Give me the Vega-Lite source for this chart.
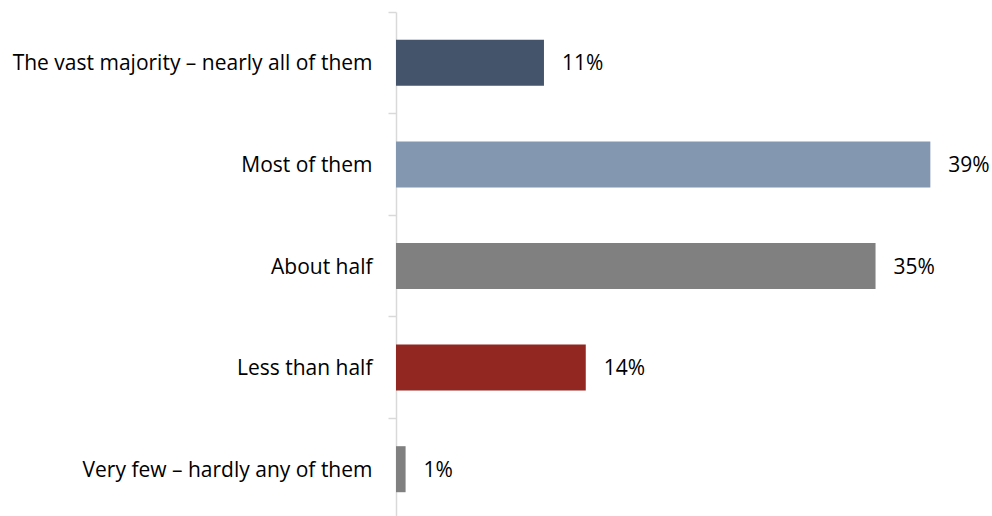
{
  "$schema": "https://vega.github.io/schema/vega-lite/v6.json",
  "width": 596,
  "height": 508,
  "autosize": {"type": "none"},
  "padding": {"left": 396, "top": 12, "right": 0, "bottom": 0},
  "background": "white",
  "config": {"view": {"stroke": null}},
  "data": {
    "values": [
      {"cat": "The vast majority – nearly all of them", "v": 10.8, "label": "11%"},
      {"cat": "Most of them", "v": 39, "label": "39%"},
      {"cat": "About half", "v": 35, "label": "35%"},
      {"cat": "Less than half", "v": 13.85, "label": "14%"},
      {"cat": "Very few – hardly any of them", "v": 0.7, "label": "1%"}
    ]
  },
  "encoding": {
    "y": {
      "field": "cat",
      "type": "nominal",
      "sort": null,
      "scale": {"paddingInner": 0, "paddingOuter": 0},
      "axis": {
        "title": null,
        "bandPosition": 0,
        "domainColor": "#d9d9d9",
        "domainWidth": 1.5,
        "tickColor": "#d9d9d9",
        "tickWidth": 1.5,
        "tickSize": 8,
        "labelPadding": 16,
        "labelOffset": 1.5,
        "labelFont": "Open Sans",
        "labelFontSize": 21,
        "labelColor": "#000000",
        "labelLimit": 500
      }
    }
  },
  "layer": [
    {
      "mark": {"type": "bar", "height": {"band": 0.453}},
      "encoding": {
        "x": {"field": "v", "type": "quantitative", "scale": {"domain": [0, 43.5], "nice": false, "zero": true}, "axis": null},
        "color": {
          "field": "cat",
          "type": "nominal",
          "scale": {
            "domain": ["The vast majority – nearly all of them", "Most of them", "About half", "Less than half", "Very few – hardly any of them"],
            "range": ["#44546A", "#8497B0", "#808080", "#922620", "#808080"]
          },
          "legend": null
        }
      }
    },
    {
      "mark": {"type": "text", "align": "left", "baseline": "middle", "dx": 18, "dy": 1.5, "font": "Open Sans", "fontSize": 21, "color": "#000000"},
      "encoding": {
        "x": {"field": "v", "type": "quantitative"},
        "text": {"field": "label"}
      }
    }
  ]
}
